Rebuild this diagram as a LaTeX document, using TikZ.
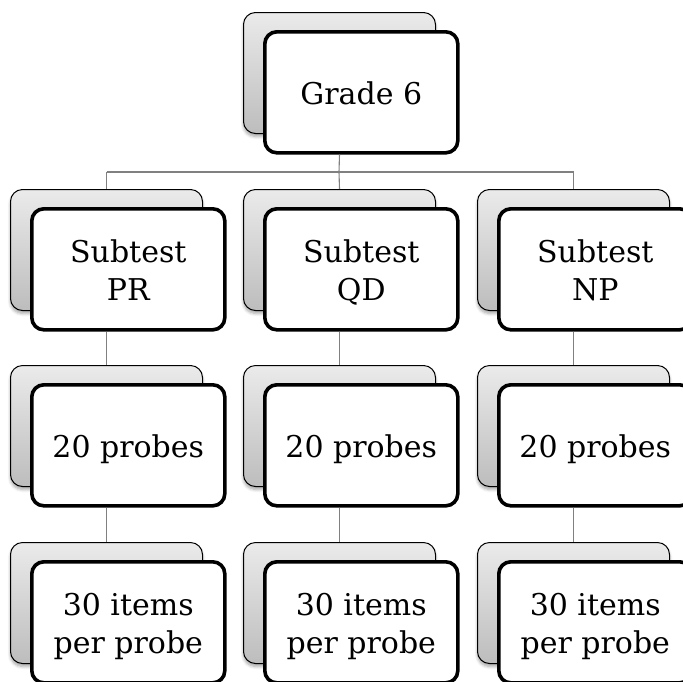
\documentclass[tikz,border=0pt]{standalone}
\usepackage{fontspec}
\setmainfont{DejaVu Serif}
\usetikzlibrary{shadows.blur}
\newcommand\firstl[1]{\rule{0pt}{25pt}\smash{#1}}
\newcommand\nextl[1]{\smash{#1}}
\begin{document}
\begin{tikzpicture}[x=1pt,y=1pt,
  backbox/.style={draw=black, line width=1pt, rounded corners=12pt,
    top color=black!8, bottom color=black!26,
    minimum width=192pt, minimum height=121pt, anchor=north west, inner sep=0pt,
    blur shadow={shadow xshift=0pt, shadow yshift=-3pt, shadow blur steps=6, shadow opacity=35, shadow blur radius=3pt}},
  frontbox/.style={draw=black, line width=3.6pt, rounded corners=12pt, fill=white,
    minimum width=193pt, minimum height=121pt, anchor=north west, inner sep=0pt,
    align=center, font=\fontsize{30}{38}\selectfont},
  conn/.style={draw=black!50, line width=1.1pt}]
\clip (0,0) rectangle (683,-681);
% top
\node[backbox] (gb) at (243,-12) {};
\node[frontbox] (gf) at (263,-30) {\firstl{Grade 6}};
% row 2
\node[backbox] (pb) at (10,-189) {};
\node[frontbox] (pf) at (30,-207) {\firstl{Subtest}\\\nextl{PR}};
\node[backbox] (qb) at (243,-189) {};
\node[frontbox] (qf) at (263,-207) {\firstl{Subtest}\\\nextl{QD}};
\node[backbox] (nb) at (477,-189) {};
\node[frontbox] (nf) at (497,-207) {\firstl{Subtest}\\\nextl{NP}};
% row 3
\node[backbox] (p2b) at (10,-365) {};
\node[frontbox] (p2f) at (30,-383) {\firstl{20 probes}};
\node[backbox] (q2b) at (243,-365) {};
\node[frontbox] (q2f) at (263,-383) {\firstl{20 probes}};
\node[backbox] (n2b) at (477,-365) {};
\node[frontbox] (n2f) at (497,-383) {\firstl{20 probes}};
% row 4
\node[backbox] (p3b) at (10,-542) {};
\node[frontbox] (p3f) at (30,-560) {\firstl{30 items}\\\nextl{per probe}};
\node[backbox] (q3b) at (243,-542) {};
\node[frontbox] (q3f) at (263,-560) {\firstl{30 items}\\\nextl{per probe}};
\node[backbox] (n3b) at (477,-542) {};
\node[frontbox] (n3f) at (497,-560) {\firstl{30 items}\\\nextl{per probe}};
% connectors
\coordinate (hub) at (339,-172);
\draw[conn] (gb.center |- gf.south) -- (hub);
\draw[conn] (pb.north |- hub) -- (nb.north |- hub);
\draw[conn] (hub) -- (qb.north);
\draw[conn] (pb.north |- hub) -- (pb.north);
\draw[conn] (nb.north |- hub) -- (nb.north);
\draw[conn] (pb.center |- pf.south) -- (p2b.north);
\draw[conn] (qb.center |- qf.south) -- (q2b.north);
\draw[conn] (nb.center |- nf.south) -- (n2b.north);
\draw[conn] (p2b.center |- p2f.south) -- (p3b.north);
\draw[conn] (q2b.center |- q2f.south) -- (q3b.north);
\draw[conn] (n2b.center |- n2f.south) -- (n3b.north);
\end{tikzpicture}
\end{document}
